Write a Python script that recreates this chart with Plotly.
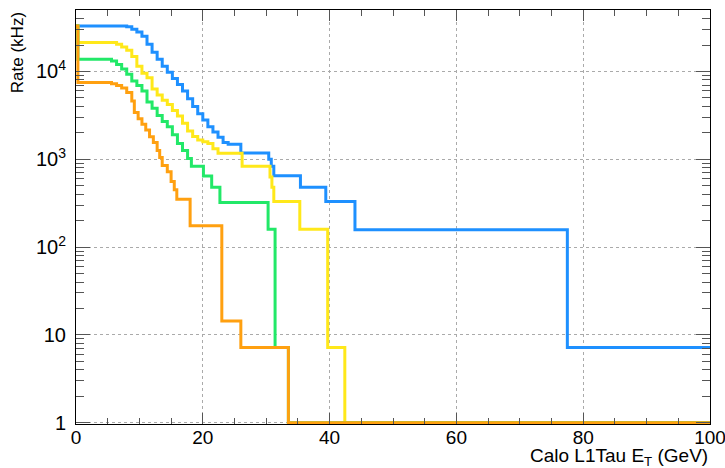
import plotly.graph_objects as go

# Thresholds (GeV) where each rate step starts, and rates (kHz)
blue_thr = [0, 8.0, 8.8, 9.6, 10.4, 11.2, 12.0, 12.8, 13.6, 14.4, 15.2, 16.0, 16.8, 17.6,
            18.4, 19.2, 20.0, 20.8, 21.6, 22.4, 23.2, 24.0, 26.0, 30.4, 30.8, 31.2, 35.4,
            39.4, 44.0, 77.5]
blue_rate = [33000, 32400, 30200, 28200, 25100, 20400, 16600, 13800, 11500, 9800, 8300,
             7100, 6000, 4900, 4000, 3300, 2800, 2350, 2040, 1780, 1550, 1480, 1180, 1000,
             830, 650, 480, 330, 158, 7.2]

yellow_thr = [0, 0.3, 6.4, 7.2, 8.0, 8.8, 9.6, 10.4, 11.2, 12.0, 12.8, 13.6, 14.4, 15.2,
              16.0, 16.8, 17.6, 18.4, 19.2, 20.0, 20.8, 21.6, 22.4, 26.2, 30.6, 30.9, 31.2,
              35.3, 39.7, 42.4]
yellow_rate = [33000, 21400, 20400, 19000, 17400, 14800, 11500, 9550, 8500, 6300, 5400,
               4700, 4200, 3600, 3100, 2570, 2100, 1820, 1660, 1580, 1510, 1320, 1170, 830,
               630, 480, 330, 160, 7.2, 1]

green_thr = [0, 0.3, 5.6, 6.4, 7.2, 8.0, 8.8, 9.6, 10.4, 11.2, 12.0, 12.8, 13.6, 14.4,
             15.2, 16.0, 16.8, 17.6, 18.2, 20.1, 21.4, 22.7, 30.3, 31.4, 33.5]
green_rate = [33000, 13800, 13200, 12000, 10700, 9300, 7800, 6900, 6000, 4500, 3800, 3160,
              2700, 2350, 1900, 1510, 1260, 1020, 830, 645, 480, 322, 160, 7.2, 1]

orange_thr = [0, 0.3, 5.6, 6.4, 7.2, 8.0, 8.8, 9.2, 9.8, 10.4, 11.0, 11.6, 12.2, 12.8,
              13.2, 13.6, 14.4, 15.0, 15.5, 15.9, 18.0, 23.0, 26.0, 33.5]
orange_rate = [33000, 7500, 7250, 6900, 6500, 5750, 4600, 3400, 2900, 2500, 2150, 1800,
               1550, 1260, 1050, 850, 720, 560, 450, 350, 175, 14.4, 7.2, 1]

x_max = 100
x_ticks = [0, 20, 40, 60, 80, 100]
y_tickvals = [1, 10, 100, 1000, 10000]
y_ticktext = ["1", "10", "10<sup>2</sup>", "10<sup>3</sup>", "10<sup>4</sup>"]

series = [
    (blue_thr, blue_rate, "#1e90ff"),
    (yellow_thr, yellow_rate, "#ffe81a"),
    (green_thr, green_rate, "#22e868"),
    (orange_thr, orange_rate, "#ffa010"),
]

fig = go.Figure()
for thr, rate, color in series:
    fig.add_trace(go.Scatter(
        x=thr + [x_max], y=rate + [rate[-1]], mode="lines",
        line=dict(color=color, width=3, shape="hv"), showlegend=False,
        hoverinfo="skip"))

font = "Liberation Sans, Arial, Helvetica, sans-serif"

fig.update_layout(
    width=725, height=468,
    margin=dict(l=76, r=15, t=10, b=44, autoexpand=False),
    paper_bgcolor="white", plot_bgcolor="white",
    font=dict(family=font, size=17, color="black"),
    xaxis=dict(
        range=[0, 100], tickvals=x_ticks, ticks="inside", ticklen=11, tickcolor="#555",
        showline=True, linecolor="black", linewidth=1, mirror="allticks",
        showgrid=True, gridcolor="#aaaaaa", griddash="dot", gridwidth=1,
        zeroline=False, tickfont=dict(size=19), ticklabeloverflow="allow",
        ticklabelstandoff=-4, automargin=False,
        minor=dict(dtick=5, ticks="inside", ticklen=6, tickcolor="#555", showgrid=False),
    ),
    yaxis=dict(
        type="log", range=[-0.015, 4.7], tickvals=y_tickvals, ticktext=y_ticktext,
        ticks="inside", ticklen=14, tickcolor="#555",
        showline=True, linecolor="black", linewidth=1, mirror="allticks",
        showgrid=True, gridcolor="#aaaaaa", griddash="dot", gridwidth=1,
        zeroline=False, tickfont=dict(size=20), ticklabelstandoff=5,
        ticklabeloverflow="allow", automargin=False,
        minor=dict(dtick="D1", ticks="inside", ticklen=8, tickcolor="#555", showgrid=False),
    ),
    annotations=[
        dict(text="Calo L1Tau E<sub>T</sub> (GeV)", xref="paper", yref="paper",
             x=1.0, y=-0.114, xanchor="right", yanchor="bottom", showarrow=False,
             font=dict(size=19)),
        dict(text="Rate (kHz)", xref="paper", yref="paper", textangle=-90,
             x=-0.092, y=1.0, xanchor="center", yanchor="top", showarrow=False,
             font=dict(size=17)),
    ],
)

fig.write_html("out.html")
